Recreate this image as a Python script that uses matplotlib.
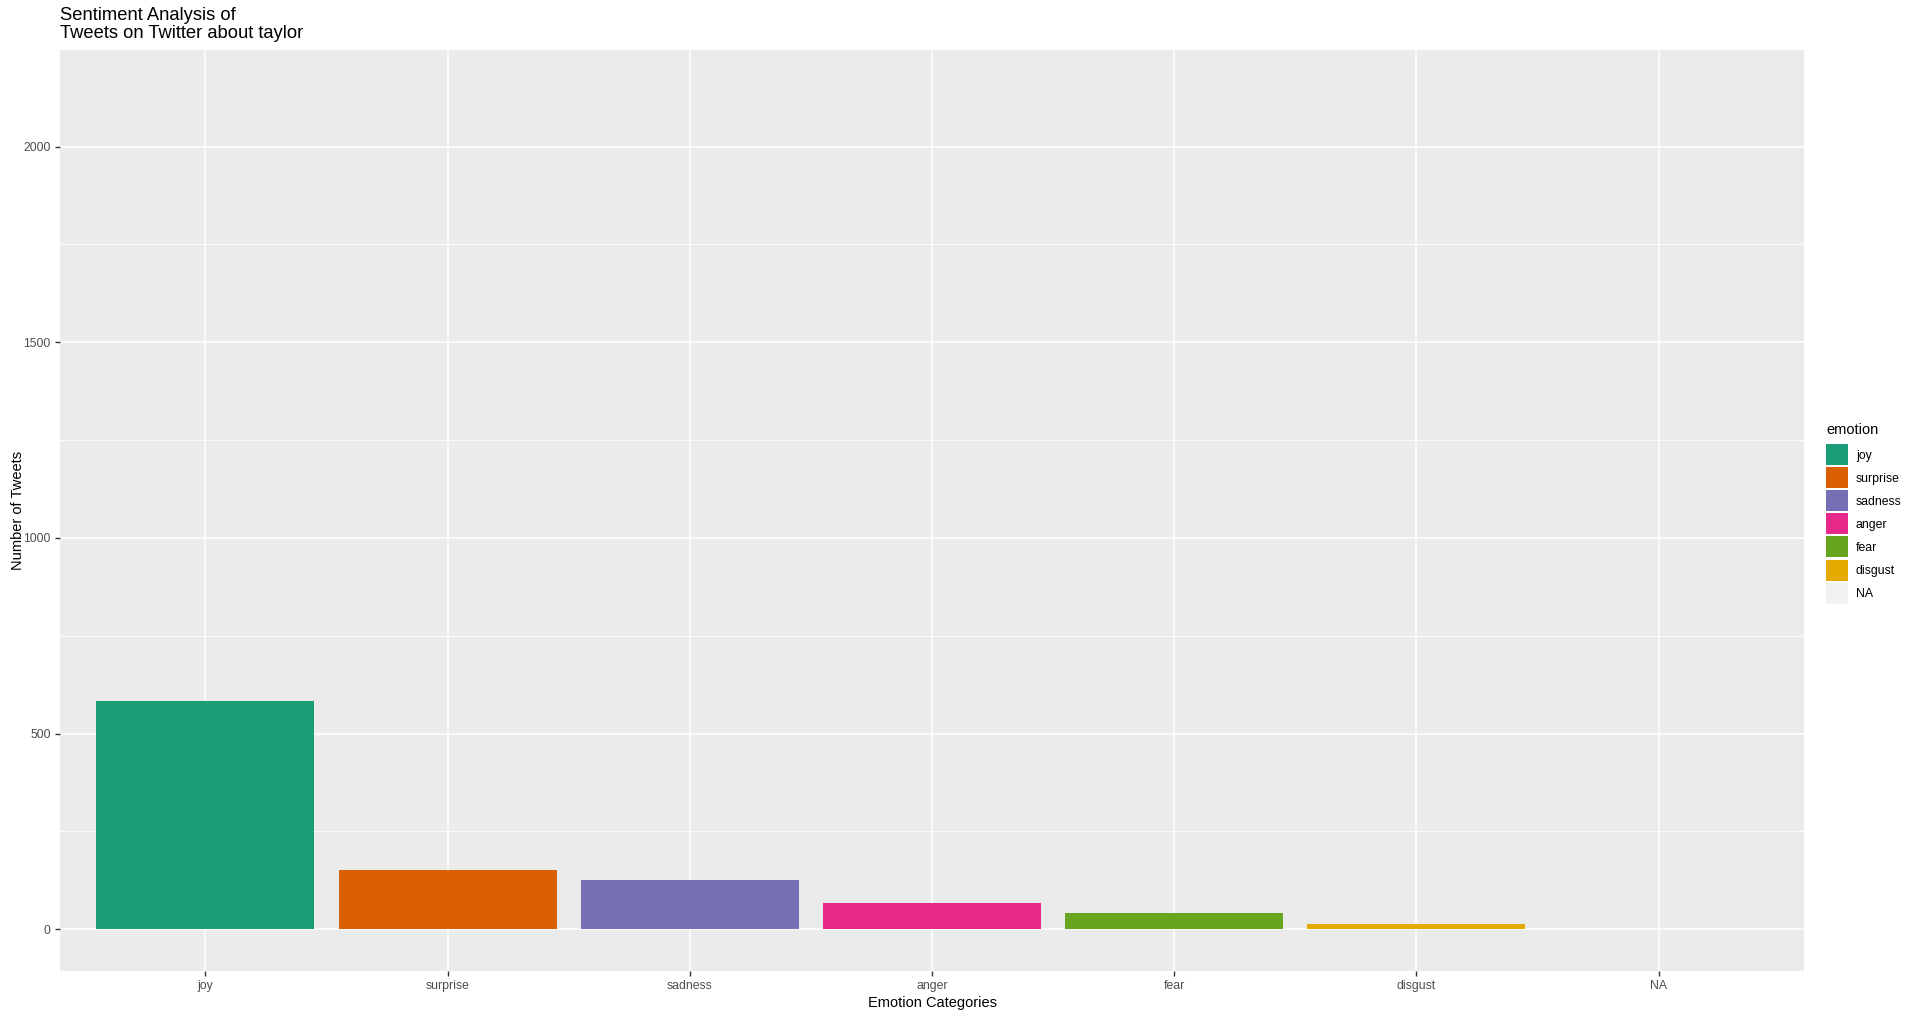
import numpy as np
import matplotlib
matplotlib.use("Agg")
import matplotlib.pyplot as plt
from matplotlib.patches import Rectangle

plt.rcParams['font.family'] = ['Liberation Sans', 'DejaVu Sans']

# datos
emociones = ['joy', 'surprise', 'sadness', 'anger', 'fear', 'disgust', 'NA']
conteos = [582, 151, 125, 66, 41, 12, 2140]
colores = ['#1B9E77', '#D95F02', '#7570B3', '#E7298A', '#66A61E', '#E6AB02', '#F2F2F2']
ticks_y = [0, 500, 1000, 1500, 2000]

W, H = 1920, 1017
fig = plt.figure(figsize=(W / 100, H / 100), dpi=100)
fig.patch.set_facecolor('white')

# panel en pixeles
x0, x1, y0, y1 = 60, 1804, 50, 971
ax = fig.add_axes([x0 / W, 1 - y1 / H, (x1 - x0) / W, (y1 - y0) / H])
ax.set_facecolor('#EBEBEB')

x = np.arange(len(emociones))
# la barra NA no tiene relleno en el original, pero fija la escala
fills = colores[:-1] + ['none']
ax.bar(x, conteos, width=0.9, color=fills, edgecolor='none', zorder=3)

ymax = max(conteos)
ax.set_ylim(-0.05 * ymax, 1.05 * ymax)
ax.set_xlim(-0.6, len(emociones) - 0.4)

ax.set_xticks(x)
ax.set_xticklabels(emociones)
ax.set_yticks(ticks_y)
ax.set_yticks([250, 750, 1250, 1750], minor=True)

ax.grid(True, which='major', color='white', linewidth=1.1, zorder=0)
ax.grid(True, which='minor', axis='y', color='white', linewidth=0.55, zorder=0)
ax.set_axisbelow(True)
for s in ax.spines.values():
    s.set_visible(False)

ax.tick_params(axis='both', which='major', length=3.7, width=1, color='#333333',
               labelcolor='#4D4D4D', labelsize=8.8, pad=3)
ax.tick_params(axis='y', which='minor', length=0)

ax.set_xlabel('Emotion Categories', fontsize=10.5, labelpad=3)
ax.set_ylabel('Number of Tweets', fontsize=10.5, labelpad=-1)

fig.text(x0 / W, 1 - 7 / H, 'Sentiment Analysis of\nTweets on Twitter about taylor',
         fontsize=13.2, ha='left', va='top', linespacing=1.05)

# leyenda manual
fig.text(1826 / W, 1 - 430 / H, 'emotion', fontsize=10.5, ha='left', va='center')
top = 444
for i, (nombre, col) in enumerate(zip(emociones, colores)):
    yk = top + i * 23.1
    fig.patches.append(Rectangle((1826 / W, 1 - (yk + 21) / H), 22 / W, 21 / H,
                                 transform=fig.transFigure, facecolor=col,
                                 edgecolor='none'))
    fig.text(1856 / W, 1 - (yk + 11.5) / H, nombre, fontsize=8.8,
             ha='left', va='center')

fig.savefig('out.png', dpi=100)
